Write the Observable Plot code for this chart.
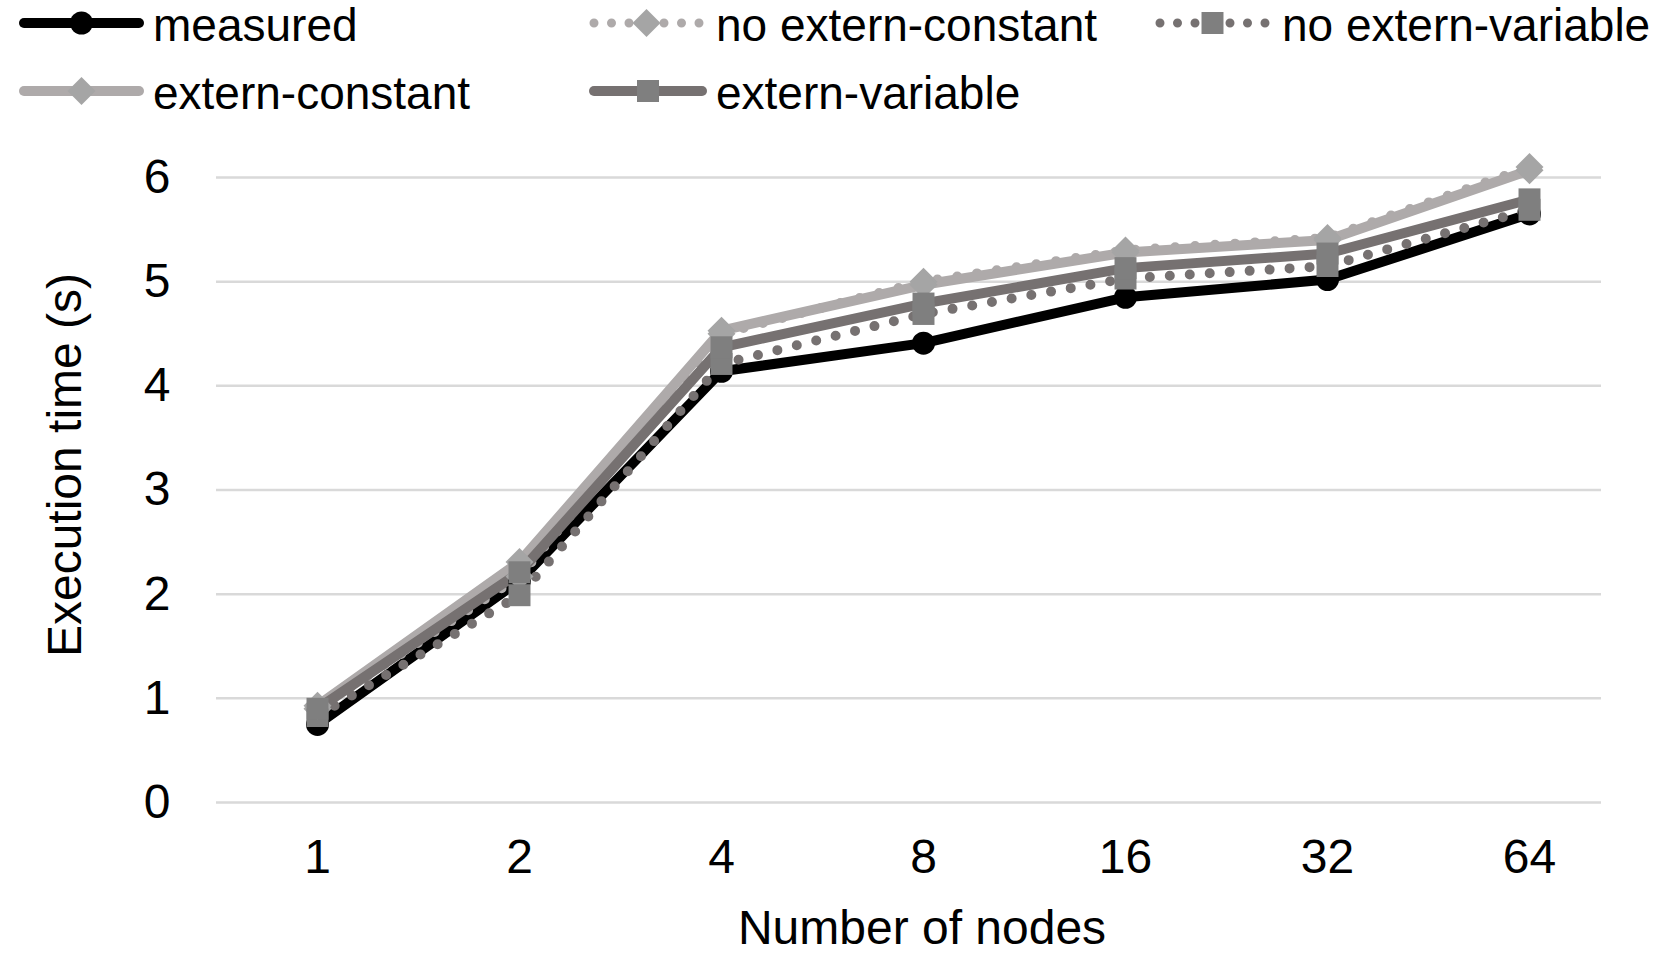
<!DOCTYPE html>
<html>
<head>
<meta charset="utf-8">
<script src="https://cdn.jsdelivr.net/npm/d3@7"></script>
<script src="https://cdn.jsdelivr.net/npm/@observablehq/plot@0.6"></script>
<style>
  html, body { margin: 0; padding: 0; background: #fff; }
  #wrap { position: relative; width: 1661px; height: 958px; overflow: hidden; font-family: "Liberation Sans", Arial, sans-serif; }
  #legend { position: absolute; left: 0; top: 2px; width: 1661px; height: 130px; }
  .item { position: absolute; display: flex; align-items: center; height: 46px; }
  .item span { font-size: 46px; color: #000; white-space: nowrap; margin-left: 9px; line-height: 46px; }
  #chart { position: absolute; left: 0; top: 0; }
</style>
</head>
<body>
<div id="wrap">
  <div id="chart"></div>
  <div id="legend"></div>
</div>
<script>
// ---- data ----
const nodes = ["1", "2", "4", "8", "16", "32", "64"];
const measured         = [0.75, 2.13, 4.14, 4.41, 4.85, 5.02, 5.65];
const noExternConstant = [0.90, 2.17, 4.50, 5.00, 5.30, 5.42, 6.10];
const noExternVariable = [0.83, 1.99, 4.21, 4.69, 5.03, 5.15, 5.69];
const externConstant   = [0.93, 2.31, 4.53, 4.97, 5.28, 5.40, 6.07];
const externVariable   = [0.90, 2.21, 4.37, 4.79, 5.13, 5.27, 5.79];
const yTicks = [0, 1, 2, 3, 4, 5, 6];

const seriesNames = ["measured", "no extern-constant", "no extern-variable", "extern-constant", "extern-variable"];
const seriesValues = [measured, noExternConstant, noExternVariable, externConstant, externVariable];

// styles per series
const styles = {
  "measured":           {line: "#000000", marker: "#000000", symbol: "circle",   r: 11.5, dash: null},
  "no extern-constant": {line: "#aeaaaa", marker: "#a5a5a5", symbol: "diamond2", r: 12.6, dash: "0 20"},
  "no extern-variable": {line: "#767171", marker: "#7f7f7f", symbol: "square",   r: 12.4, dash: "0 20"},
  "extern-constant":    {line: "#aeaaaa", marker: "#a5a5a5", symbol: "diamond2", r: 12.6, dash: null},
  "extern-variable":    {line: "#767171", marker: "#7f7f7f", symbol: "square",   r: 12.4, dash: null}
};

const rows = [];
seriesNames.forEach((s, i) => nodes.forEach((n, j) => rows.push({series: s, node: n, value: seriesValues[i][j]})));

const lineMarks = seriesNames.map(s => {
  const st = styles[s];
  return Plot.line(rows.filter(d => d.series === s), {
    x: "node", y: "value", stroke: st.line, strokeWidth: 10,
    strokeLinecap: "round", strokeLinejoin: "round",
    strokeDasharray: st.dash || undefined
  });
});
const dotMarks = seriesNames.map(s => {
  const st = styles[s];
  return Plot.dot(rows.filter(d => d.series === s), {
    x: "node", y: "value", fill: st.marker, stroke: "none", symbol: st.symbol, r: st.r
  });
});

const chart = Plot.plot({
  width: 1661, height: 958,
  marginTop: 177, marginBottom: 156, marginLeft: 216, marginRight: 60,
  style: {fontFamily: "'Liberation Sans', Arial, sans-serif", background: "transparent", color: "#000", overflow: "visible"},
  x: {type: "point", domain: nodes, range: [314, 1531], padding: 0},
  y: {domain: [0, 6]},
  marks: [
    Plot.ruleY(yTicks, {stroke: "#d9d9d9", strokeWidth: 2.5}),
    Plot.axisY(yTicks, {tickSize: 0, tickPadding: 46, fontSize: 48, label: null, fill: "#000", tickFormat: "d"}),
    Plot.axisX({tickSize: 0, tickPadding: 36, fontSize: 48, label: null, fill: "#000"}),
    Plot.text(["Execution time (s)"], {frameAnchor: "left", textAnchor: "middle", lineAnchor: "middle", rotate: -90, dx: -151, dy: -25, fontSize: 48, fill: "#000"}),
    Plot.text(["Number of nodes"], {frameAnchor: "bottom", textAnchor: "middle", lineAnchor: "middle", dy: 126, dx: 13, fontSize: 48, fill: "#000"}),
    ...lineMarks,
    ...dotMarks
  ]
});
document.getElementById("chart").appendChild(chart);

// ---- legend ----
const legendPos = {
  "measured":           {left: 19,   top: 0,  w: 125},
  "no extern-constant": {left: 589,  top: 0,  w: 118},
  "no extern-variable": {left: 1155, top: 0,  w: 118},
  "extern-constant":    {left: 19,   top: 68, w: 125},
  "extern-variable":    {left: 589,  top: 68, w: 118}
};
const legend = d3.select("#legend");
seriesNames.forEach(s => {
  const st = styles[s], p = legendPos[s];
  const item = legend.append("div").attr("class", "item").style("left", p.left + "px").style("top", p.top + "px");
  const svg = item.append("svg").attr("width", p.w).attr("height", 46);
  const x0 = 5, x1 = p.w - 5, cy = 21;
  svg.append("line").attr("x1", x0).attr("x2", x1).attr("y1", cy).attr("y2", cy)
    .attr("stroke", st.line).attr("stroke-width", st.dash ? 9 : 10).attr("stroke-linecap", "round")
    .attr("stroke-dasharray", st.dash ? "0 17.5" : null);
  const sym = {circle: d3.symbolCircle, diamond2: d3.symbolDiamond2, square: d3.symbolSquare}[st.symbol];
  const cx = st.dash ? x0 + 52.5 : (x0 + x1) / 2;
  svg.append("path").attr("d", d3.symbol(sym, Math.PI * st.r * st.r)())
    .attr("transform", `translate(${cx},${cy})`).attr("fill", st.marker);
  item.append("span").text(s);
});
</script>
</body>
</html>
